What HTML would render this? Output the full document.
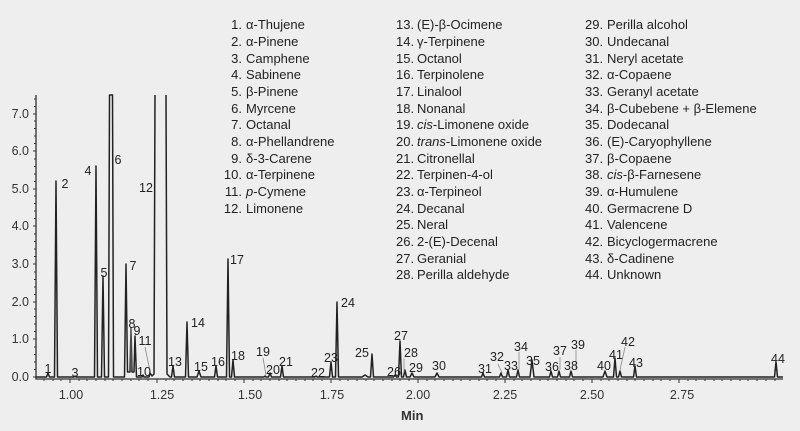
<!DOCTYPE html>
<html><head><meta charset="utf-8"><style>
body{margin:0;background:#eeeeee;}
svg{display:block;font-family:"Liberation Sans",sans-serif;}
</style></head><body>
<svg width="800" height="431" viewBox="0 0 800 431">
<rect width="800" height="431" fill="#eeeeee"/>
<!-- axes -->
<g stroke="#333" stroke-width="1.3" fill="none">
<path d="M36,95 V379 H783"/>
</g>
<g stroke="#333" stroke-width="1">
<path d="M33,377H36 M33,339H36 M33,302H36 M33,264H36 M33,226H36 M33,189H36 M33,151H36 M33,114H36"/>
<path d="M34,369.5H36 M34,362H36 M34,354.5H36 M34,347H36 M34,331.5H36 M34,324H36 M34,316.5H36 M34,309H36 M34,294.5H36 M34,287H36 M34,279.5H36 M34,272H36 M34,256.5H36 M34,249H36 M34,241.5H36 M34,234H36 M34,218.5H36 M34,211H36 M34,203.5H36 M34,196H36 M34,181.5H36 M34,174H36 M34,166.5H36 M34,159H36 M34,143.5H36 M34,136H36 M34,128.5H36 M34,121H36 M34,106.5H36 M34,99H36"/>
<path d="M70,379v4 M157,379v4 M244,379v4 M331,379v4 M418,379v4 M505,379v4 M592,379v4 M679,379v4"/>
<path d="M44,379v2 M53,379v2 M61,379v2 M79,379v2 M87,379v2 M96,379v2 M105,379v2 M113,379v2 M122,379v2 M131,379v2 M139,379v2 M148,379v2 M166,379v2 M174,379v2 M183,379v2 M192,379v2 M200,379v2 M209,379v2 M218,379v2 M226,379v2 M235,379v2 M253,379v2 M261,379v2 M270,379v2 M279,379v2 M287,379v2 M296,379v2 M305,379v2 M313,379v2 M322,379v2 M340,379v2 M348,379v2 M357,379v2 M366,379v2 M374,379v2 M383,379v2 M392,379v2 M400,379v2 M409,379v2 M427,379v2 M435,379v2 M444,379v2 M453,379v2 M461,379v2 M470,379v2 M479,379v2 M487,379v2 M496,379v2 M514,379v2 M522,379v2 M531,379v2 M540,379v2 M548,379v2 M557,379v2 M566,379v2 M574,379v2 M583,379v2 M601,379v2 M609,379v2 M618,379v2 M627,379v2 M635,379v2 M644,379v2 M653,379v2 M661,379v2 M670,379v2 M688,379v2 M696,379v2 M705,379v2 M714,379v2 M722,379v2 M731,379v2 M740,379v2 M748,379v2 M757,379v2 M766,379v2 M775,379v2"/>
</g>
<g font-size="12.5" fill="#333" text-anchor="end">
<text x="29" y="381">0.0</text><text x="29" y="343">1.0</text><text x="29" y="306">2.0</text><text x="29" y="268">3.0</text><text x="29" y="230">4.0</text><text x="29" y="193">5.0</text><text x="29" y="155">6.0</text><text x="29" y="118">7.0</text>
</g>
<g font-size="12.5" fill="#333" text-anchor="middle">
<text x="71" y="399">1.00</text><text x="162" y="399">1.25</text><text x="250" y="399">1.50</text><text x="332" y="399">1.75</text><text x="418" y="399">2.00</text><text x="505" y="399">2.25</text><text x="592" y="399">2.50</text><text x="682" y="399">2.75</text>
</g>
<text x="401" y="420" font-size="13" font-weight="bold" fill="#333">Min</text>
<!-- trace -->
<path fill="none" stroke="#222" stroke-width="1.5" stroke-linejoin="round" d="
M36,377 L46.5,377 L48,373 L49.5,377 L54.5,377 L56,181 L57.5,377 L74,377 L75,376 L76,377
L94.5,377 L96,166 L97.5,377 L101.5,377 L103,276 L104.5,377 L108.5,377 L109.5,95 L112.5,95 L113.5,377
L124.5,377 L126,264 L127.5,372 L130,372 L131,328 L132,372 L134,372 L135,336 L136.5,377 L142,377 L143,375 L144,377
L149,377 L150,373 L152,376 L154,374 L155,95 M166,95 L167,374 L170,377 L171.5,377 L173,366 L174.5,377
L185.5,377 L187,322 L188.5,377 L197,377 L199,371 L201,377 L214.5,377 L216,366 L217.5,377 L226.5,377 L228,259 L229.5,377 L231.5,377 L233,360 L234.5,377
L264,377 L265,376 L266,377 L268.5,377 L270,373 L271.5,377 L280.5,377 L282,366 L283.5,377 L315,377 L316,376 L317,377
L329.5,377 L331,362 L332.5,377 L335.5,377 L337,302 L338.5,377 L362,377 L365,375 L368,377 L370.5,377 L372,354 L373.5,377
L393.5,377 L395,375 L396.5,377 L398.5,377 L400,341 L401.5,377 L403.5,377 L405,370 L406.5,377 L410,377 L412,373 L414,377
L435,377 L437,373 L439,377 L481.5,377 L483,373 L484.5,377 L499.5,377 L501,373 L502.5,377 L506.5,377 L508,370 L509.5,377
L516.5,377 L518,370 L519.5,377 L530,377 L532,360 L534,377 L549.5,377 L551,371 L552.5,377 L557.5,377 L559,371 L560.5,377
L569.5,377 L571,371 L572.5,377 L603,377 L605,371 L607,377 L613.5,377 L615,358 L616.5,377 L618.5,377 L620,371 L621.5,377
L633.5,377 L635,366 L636.5,377 L774.5,377 L776,362 L777.5,377 L783,377"/>
<!-- leader lines -->
<g stroke="#888" stroke-width="0.8">
<path d="M131,327V370 M145,347L150,371 M263,358L266,375 M404,358V372 M498,364L502,373 M519,352V370 M560,357V370 M576,350V370 M625,347L620,370"/>
</g>
<g font-size="12.5" fill="#222" text-anchor="middle">
<text x="48" y="373">1</text><text x="65" y="188">2</text><text x="75" y="377">3</text><text x="88" y="175">4</text><text x="104" y="277">5</text><text x="118" y="164">6</text><text x="133" y="270">7</text><text x="132" y="328">8</text><text x="137" y="335">9</text><text x="144" y="376">10</text><text x="145" y="345">11</text><text x="146" y="192">12</text><text x="175" y="366">13</text><text x="198" y="327">14</text><text x="201" y="371">15</text><text x="218" y="366">16</text><text x="237" y="264">17</text><text x="238" y="360">18</text><text x="263" y="356">19</text><text x="273" y="374">20</text><text x="286" y="366">21</text><text x="318" y="377">22</text><text x="331" y="362">23</text><text x="348" y="307">24</text><text x="362" y="357">25</text><text x="394" y="376">26</text><text x="401" y="340">27</text><text x="411" y="357">28</text><text x="416" y="372">29</text><text x="439" y="370">30</text><text x="485" y="373">31</text><text x="497" y="361">32</text><text x="511" y="370">33</text><text x="521" y="351">34</text><text x="533" y="365">35</text><text x="552" y="371">36</text><text x="560" y="355">37</text><text x="571" y="370">38</text><text x="578" y="349">39</text><text x="604" y="370">40</text><text x="616" y="359">41</text><text x="628" y="346">42</text><text x="636" y="367">43</text><text x="778" y="363">44</text>
</g>
<!-- legend -->
<g font-size="13" fill="#222">
<g text-anchor="end">
<text x="242" y="29">1.</text><text x="242" y="46">2.</text><text x="242" y="63">3.</text><text x="242" y="79">4.</text><text x="242" y="96">5.</text><text x="242" y="113">6.</text><text x="242" y="129">7.</text><text x="242" y="146">8.</text><text x="242" y="163">9.</text><text x="242" y="179">10.</text><text x="242" y="196">11.</text><text x="242" y="213">12.</text>
</g>
<text x="246" y="29">α-Thujene</text><text x="246" y="46">α-Pinene</text><text x="246" y="63">Camphene</text><text x="246" y="79">Sabinene</text><text x="246" y="96">β-Pinene</text><text x="246" y="113">Myrcene</text><text x="246" y="129">Octanal</text><text x="246" y="146">α-Phellandrene</text><text x="246" y="163">δ-3-Carene</text><text x="246" y="179">α-Terpinene</text><text x="246" y="196"><tspan font-style="italic">p</tspan>-Cymene</text><text x="246" y="213">Limonene</text>
<text x="396" y="29">13.</text><text x="396" y="46">14.</text><text x="396" y="63">15.</text><text x="396" y="79">16.</text><text x="396" y="96">17.</text><text x="396" y="113">18.</text><text x="396" y="129">19.</text><text x="396" y="146">20.</text><text x="396" y="163">21.</text><text x="396" y="179">22.</text><text x="396" y="196">23.</text><text x="396" y="213">24.</text><text x="396" y="229">25.</text><text x="396" y="246">26.</text><text x="396" y="263">27.</text><text x="396" y="279">28.</text>
<text x="417" y="29">(E)-β-Ocimene</text><text x="417" y="46">γ-Terpinene</text><text x="417" y="63">Octanol</text><text x="417" y="79">Terpinolene</text><text x="417" y="96">Linalool</text><text x="417" y="113">Nonanal</text><text x="417" y="129"><tspan font-style="italic">cis</tspan>-Limonene oxide</text><text x="417" y="146"><tspan font-style="italic">trans</tspan>-Limonene oxide</text><text x="417" y="163">Citronellal</text><text x="417" y="179">Terpinen-4-ol</text><text x="417" y="196">α-Terpineol</text><text x="417" y="213">Decanal</text><text x="417" y="229">Neral</text><text x="417" y="246">2-(E)-Decenal</text><text x="417" y="263">Geranial</text><text x="417" y="279">Perilla aldehyde</text>
<text x="585" y="29">29.</text><text x="585" y="46">30.</text><text x="585" y="63">31.</text><text x="585" y="79">32.</text><text x="585" y="96">33.</text><text x="585" y="113">34.</text><text x="585" y="129">35.</text><text x="585" y="146">36.</text><text x="585" y="163">37.</text><text x="585" y="179">38.</text><text x="585" y="196">39.</text><text x="585" y="213">40.</text><text x="585" y="229">41.</text><text x="585" y="246">42.</text><text x="585" y="263">43.</text><text x="585" y="279">44.</text>
<text x="607" y="29">Perilla alcohol</text><text x="607" y="46">Undecanal</text><text x="607" y="63">Neryl acetate</text><text x="607" y="79">α-Copaene</text><text x="607" y="96">Geranyl acetate</text><text x="607" y="113">β-Cubebene + β-Elemene</text><text x="607" y="129">Dodecanal</text><text x="607" y="146">(E)-Caryophyllene</text><text x="607" y="163">β-Copaene</text><text x="607" y="179"><tspan font-style="italic">cis</tspan>-β-Farnesene</text><text x="607" y="196">α-Humulene</text><text x="607" y="213">Germacrene D</text><text x="607" y="229">Valencene</text><text x="607" y="246">Bicyclogermacrene</text><text x="607" y="263">δ-Cadinene</text><text x="607" y="279">Unknown</text>
</g>
</svg>
</body></html>
